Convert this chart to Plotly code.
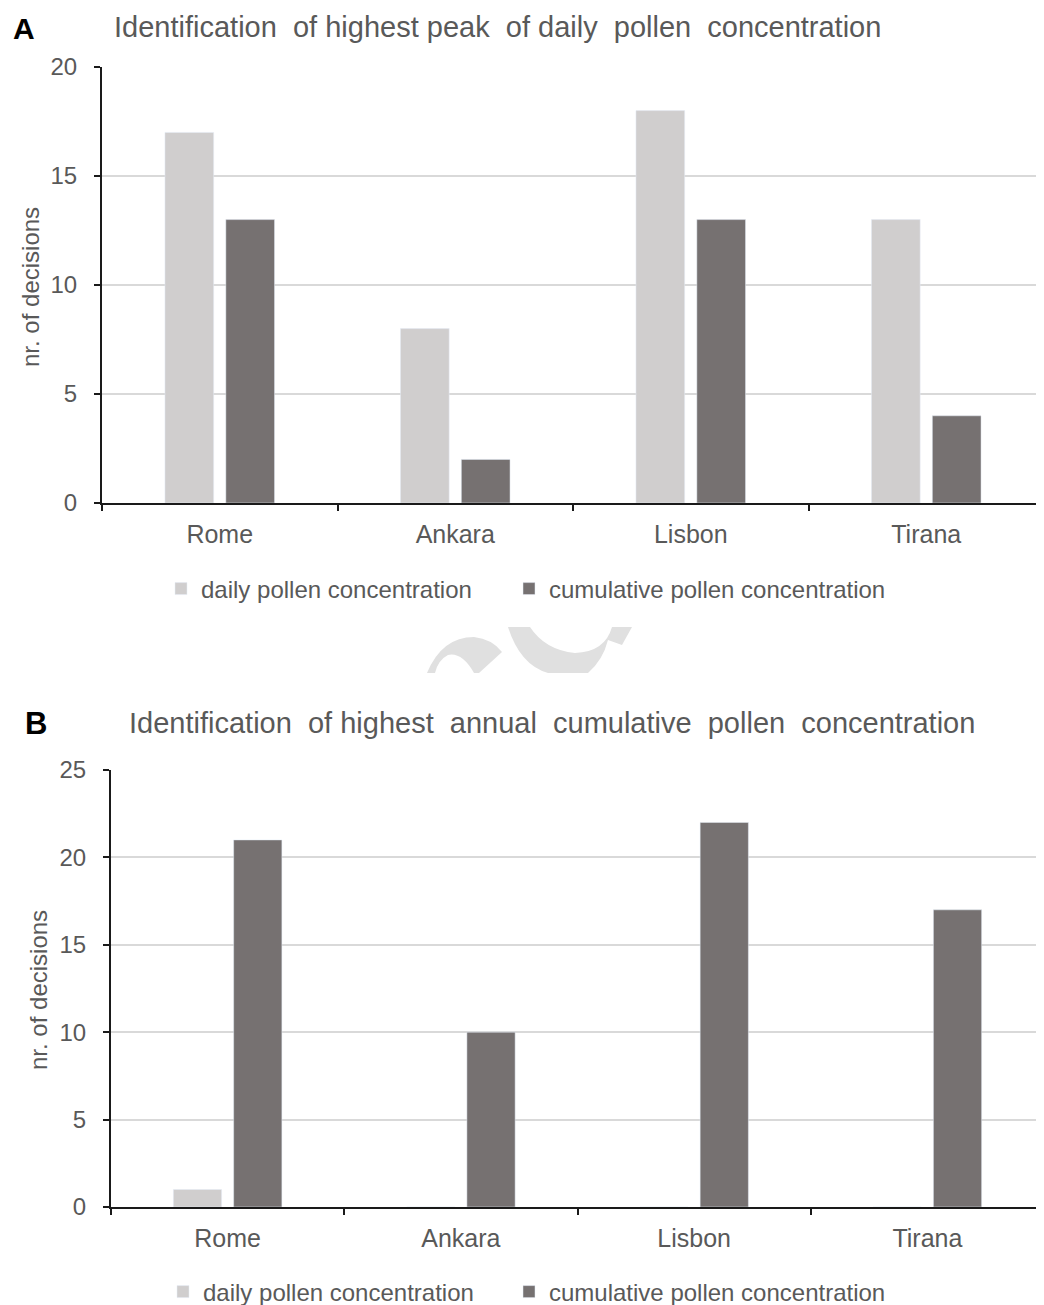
import plotly.graph_objects as go

cities = ["Rome", "Ankara", "Lisbon", "Tirana"]
series_names = ["daily pollen concentration", "cumulative pollen concentration"]
daily_A = [17, 8, 18, 13]
cumulative_A = [13, 2, 13, 4]
daily_B = [1, 0, 0, 0]
cumulative_B = [21, 10, 22, 17]
title_A = "Identification  of highest peak  of daily  pollen  concentration"
title_B = "Identification  of highest  annual  cumulative  pollen  concentration"
y_title = "nr. of decisions"
yticks_A = [0, 5, 10, 15, 20]
yticks_B = [0, 5, 10, 15, 20, 25]

# the page body has an 8px margin: figure is drawn at (8, 8) in the window
OFF = 8
W, H = 1044 - OFF, 1305 - OFF
FONT = "Arial, Liberation Sans, sans-serif"
TXT = "#595959"
C_DAILY = "#D0CECE"
C_CUM = "#767171"
AXC = "#1a1a1a"
GRID = "#D9D9D9"


def px(x):
    return (x - OFF) / W


def py(y):
    return 1 - (y - OFF) / H


fig = go.Figure()
fig.add_trace(go.Bar(x=cities, y=daily_A, name=series_names[0], marker_color=C_DAILY,
                     xaxis="x", yaxis="y", legend="legend", showlegend=True))
fig.add_trace(go.Bar(x=cities, y=cumulative_A, name=series_names[1], marker_color=C_CUM,
                     xaxis="x", yaxis="y", legend="legend2", showlegend=True))
fig.add_trace(go.Bar(x=cities, y=daily_B, name=series_names[0], marker_color=C_DAILY,
                     xaxis="x2", yaxis="y2", legend="legend3", showlegend=True))
fig.add_trace(go.Bar(x=cities, y=cumulative_B, name=series_names[1], marker_color=C_CUM,
                     xaxis="x2", yaxis="y2", legend="legend4", showlegend=True))

xcommon = dict(showline=True, linecolor=AXC, linewidth=2, ticks="outside", ticklen=6,
               tickwidth=2, tickcolor=AXC, tickson="boundaries", showgrid=False,
               ticklabelstandoff=8,
               tickfont=dict(family=FONT, size=25, color=TXT), fixedrange=True)
ycommon = dict(showline=True, linecolor=AXC, linewidth=2, ticks="outside", ticklen=6,
               tickwidth=2, tickcolor=AXC, showgrid=True, gridcolor=GRID, gridwidth=2,
               zeroline=False, ticklabelstandoff=12,
               tickfont=dict(family=FONT, size=24, color=TXT), fixedrange=True)

legcommon = dict(orientation="h", xanchor="left", yanchor="middle", visible=True,
                 font=dict(family=FONT, size=24, color=TXT), bgcolor="rgba(0,0,0,0)")

fig.update_layout(
    width=W, height=H, margin=dict(l=0, r=0, t=0, b=0, autoexpand=False),
    paper_bgcolor="white", plot_bgcolor="white", showlegend=True,
    barmode="group", bargap=0.483, bargroupgap=0.2,
    xaxis=dict(domain=[px(102), 1], anchor="y", **xcommon),
    yaxis=dict(domain=[py(503), py(67)], anchor="x", range=[0, 20], tickvals=yticks_A, **ycommon),
    xaxis2=dict(domain=[px(111), 1], anchor="y2", **xcommon),
    yaxis2=dict(domain=[py(1207), py(770)], anchor="x2", range=[0, 25], tickvals=yticks_B, **ycommon),
    legend=dict(x=px(161), y=py(589), **legcommon),
    legend2=dict(x=px(509), y=py(589), **legcommon),
    legend3=dict(x=px(163), y=py(1292), **legcommon),
    legend4=dict(x=px(509), y=py(1292), **legcommon),
)

annotations = [
    dict(text="<b>A</b>", x=px(11), y=py(28), xanchor="left", yanchor="middle",
         font=dict(family=FONT, size=30, color="black")),
    dict(text="<b>B</b>", x=px(23), y=py(723), xanchor="left", yanchor="middle",
         font=dict(family=FONT, size=31, color="black")),
    dict(text=title_A, x=px(112), y=py(27), xanchor="left", yanchor="middle",
         font=dict(family=FONT, size=29, color=TXT)),
    dict(text=title_B, x=px(127), y=py(723), xanchor="left", yanchor="middle",
         font=dict(family=FONT, size=29, color=TXT)),
    dict(text=y_title, x=px(30), y=py(287), xanchor="center", yanchor="middle", textangle=-90,
         font=dict(family=FONT, size=24, color=TXT)),
    dict(text=y_title, x=px(38), y=py(990), xanchor="center", yanchor="middle", textangle=-90,
         font=dict(family=FONT, size=24, color=TXT)),
]
for a in annotations:
    a.update(xref="paper", yref="paper", showarrow=False)
fig.update_layout(annotations=annotations)


def path(points_cmds):
    out = []
    for cmd, *pts in points_cmds:
        coords = []
        for i in range(0, len(pts), 2):
            coords.append(f"{px(pts[i]):.5f},{py(pts[i + 1]):.5f}")
        out.append(cmd + " " + " ".join(coords))
    return " ".join(out) + " Z"


logo_left = path([
    ("M", 427, 673), ("Q", 442, 637, 474, 637), ("Q", 492, 639, 502, 652),
    ("L", 479, 673), ("L", 474, 673), ("Q", 462, 652, 448, 655), ("Q", 438, 660, 435, 673),
])
logo_right = path([
    ("M", 508, 627), ("Q", 520, 665, 548, 673), ("L", 588, 673), ("Q", 603, 660, 608, 640),
    ("L", 622, 645), ("L", 632, 627), ("L", 612, 627), ("Q", 605, 652, 575, 653),
    ("Q", 545, 650, 530, 627),
])
for p in (logo_left, logo_right):
    fig.add_shape(type="path", path=p, xref="paper", yref="paper",
                  fillcolor="#E0E0E0", line=dict(width=0), layer="below")

fig.write_html("out.html")
